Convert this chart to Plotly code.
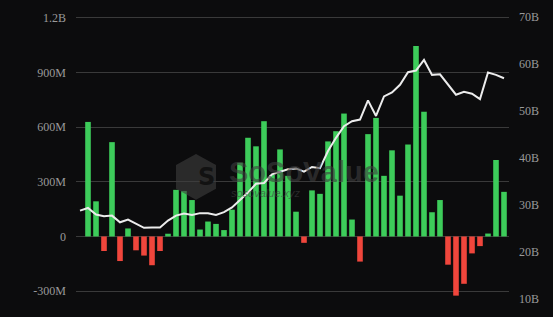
import plotly.graph_objects as go

# Net flow per period (millions USD)
flows_m = [629, 193, -80, 518, -135, 44, -76, -105, -158, -80,
           15, 256, 250, 200, 38, 82, 69, 35, 147, 405,
           542, 495, 633, 338, 478, 333, 136, -35, 253, 234,
           522, 578, 675, 93, -138, 562, 651, 333, 473, 224,
           505, 1046, 685, 133, 200, -155, -325, -260, -93, -53,
           16, 420, 245]

# Total net assets (billions USD), one extra starting point
assets_b = [28.72, 29.30, 27.88, 27.52, 27.66, 26.24, 26.82, 25.90, 25.06, 25.12,
            25.12, 26.60, 27.66, 28.09, 27.81, 28.19, 28.15, 27.81, 28.41, 29.40,
            30.95, 32.58, 34.45, 34.62, 36.46, 37.03, 37.56, 37.73, 37.06, 38.05,
            37.78, 41.44, 44.26, 46.74, 47.80, 48.16, 52.26, 48.93, 53.10, 53.95,
            55.58, 58.26, 58.62, 60.88, 57.70, 57.83, 55.58, 53.46, 54.10, 53.68,
            52.53, 58.19, 57.70, 56.98]

left_tickvals = [1200, 900, 600, 300, 0, -300]
left_ticktext = ["1.2B", "900M", "600M", "300M", "0", "-300M"]
right_tickvals = [70, 60, 50, 40, 30, 20, 10]
right_ticktext = ["70B", "60B", "50B", "40B", "30B", "20B", "10B"]

GREEN = "#3dcc5a"
RED = "#f0463c"
BG = "#0c0c0d"
GRID = "#3a3a3a"
TICK = "#9a9a9a"

bar_x = list(range(len(flows_m)))
line_x = list(range(-1, len(assets_b) - 1))
colors = [GREEN if v >= 0 else RED for v in flows_m]

fig = go.Figure()
fig.add_trace(go.Bar(x=bar_x, y=flows_m, marker=dict(color=colors, line=dict(width=0)),
                     width=0.7, yaxis="y", showlegend=False))
fig.add_trace(go.Scatter(x=line_x, y=assets_b, mode="lines",
                         line=dict(color="#ececec", width=2), yaxis="y2", showlegend=False))

W, H = 553, 317
L, R, T, B = 76, 44, 10, 12
pw, ph = W - L - R, H - T - B

def px(xp):
    return (xp - L) / pw

def py(yp):
    return (H - B - yp) / ph

tickfont = dict(family="Liberation Serif", size=12, color=TICK)

fig.update_layout(
    width=W, height=H,
    margin=dict(l=L, r=R, t=T, b=B),
    paper_bgcolor=BG, plot_bgcolor=BG,
    font=dict(family="Liberation Serif", size=12, color=TICK),
    bargap=0.3,
    xaxis=dict(range=[-1.5, 52.625], showgrid=False, zeroline=False,
               showticklabels=False, ticks="", showline=False),
    yaxis=dict(range=[-376.4, 1232.7], tickvals=left_tickvals, ticktext=left_ticktext,
               tickfont=tickfont,
               showgrid=True, gridcolor=GRID, gridwidth=1, zeroline=False,
               ticks="", ticklabelstandoff=9, showline=False),
    yaxis2=dict(range=[8.58, 71.12], tickvals=right_tickvals, ticktext=right_ticktext,
                tickfont=tickfont,
                overlaying="y", side="right", showgrid=False, zeroline=False,
                ticks="", ticklabelstandoff=9, showline=False),
)

# Watermark
WM = "rgba(62,62,62,0.62)"
hexpts = [(196, 153), (216, 164), (216, 188), (196, 199), (176, 188), (176, 164)]
path = "M " + " L ".join(f"{px(a):.4f},{py(b):.4f}" for a, b in hexpts) + " Z"
fig.add_shape(type="path", path=path, xref="paper", yref="paper",
              fillcolor=WM, line=dict(width=0))
fig.add_annotation(x=px(196), y=py(176), xref="paper", yref="paper", text="<b>S</b>",
                   showarrow=False, font=dict(family="DejaVu Sans", size=24, color="rgba(15,15,15,0.9)"))
fig.add_annotation(x=px(227), y=py(171), xref="paper", yref="paper", xanchor="left",
                   text="<b>SoSoValue</b>", showarrow=False,
                   font=dict(family="Liberation Sans", size=29, color=WM))
fig.add_annotation(x=px(229), y=py(192), xref="paper", yref="paper", xanchor="left",
                   text="<i>sosovalue.xyz</i>", showarrow=False,
                   font=dict(family="Liberation Sans", size=11, color=WM))

fig.write_html("out.html")
